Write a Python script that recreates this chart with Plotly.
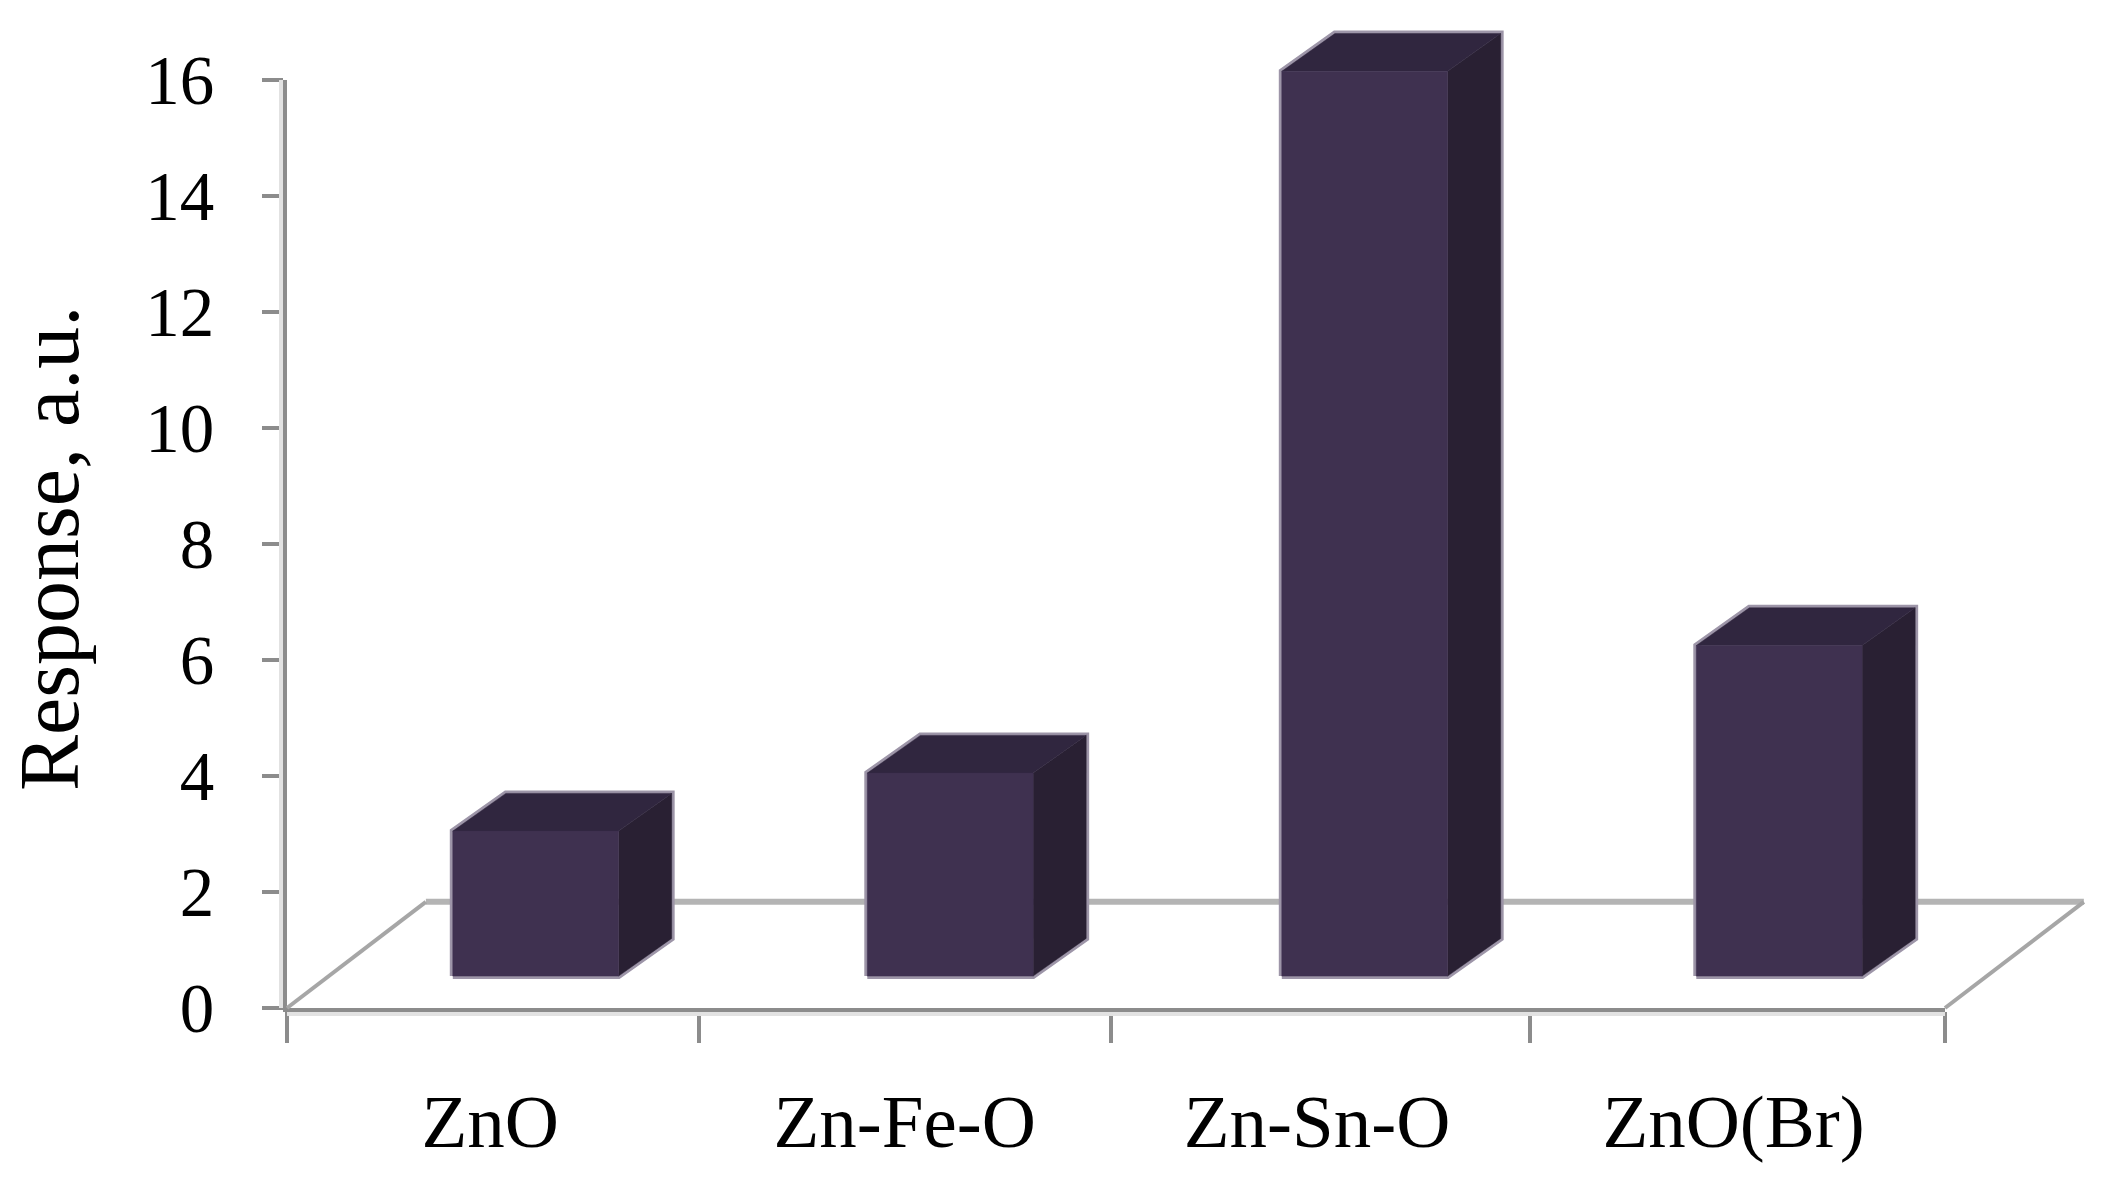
import plotly.graph_objects as go

categories = ["ZnO", "Zn-Fe-O", "Zn-Sn-O", "ZnO(Br)"]
response = [2.5, 3.5, 15.6, 5.7]
y_ticks = [0, 2, 4, 6, 8, 10, 12, 14, 16]
x_label_pos = [0.49, 1.49, 2.485, 3.49]
x_tick_pos = [0, 0.994, 1.988, 2.998, 4]
y_title = "Response, a.u."

W, H = 2112, 1192
X0, X4, Y0, Y16 = 287, 1945, 1008, 80
PX = (X4 - X0) / 4
PY = (Y0 - Y16) / 16

FRONT, TOP, SIDE, EDGE = "#3f3150", "#30263f", "#292033", "#9d95a8"
AXIS, FLOOR, SHADOW = "#8c8c8c", "#b4b4b4", "#e2e2e2"
FONT = "Liberation Serif"

# depth of the floor, offset of the bar's front plane, depth of the bar (category / value units)
FLOOR_DX, FLOOR_DY = 0.335, 1.83
PLANE_DX, PLANE_DY = 0.10, 0.55
BAR_DX, BAR_DY = 0.128, 0.65
BAR_W = 0.40

fig = go.Figure()


def line(x, y, color, width):
    fig.add_trace(go.Scatter(x=x, y=y, mode="lines", line=dict(color=color, width=width),
                             xaxis="x2", yaxis="y2", hoverinfo="skip", showlegend=False))


def poly(x, y, color):
    fig.add_trace(go.Scatter(x=x + x[:1], y=y + y[:1], mode="lines", fill="toself", fillcolor=color,
                             line=dict(color=color, width=0.5), xaxis="x2", yaxis="y2",
                             hoverinfo="skip", showlegend=False))


# keeps the visible axes in the figure
fig.add_trace(go.Scatter(x=[0, 4], y=[0, 16], mode="none", xaxis="x", yaxis="y",
                         hoverinfo="skip", showlegend=False))

# axis shadows
sx, sy = 6 / PX, 6 / PY
line([-sx, -sx], [0, 16], SHADOW, 4)
line([0, 4], [-sy, -sy], SHADOW, 4)

# floor
line([FLOOR_DX, 4 + FLOOR_DX], [FLOOR_DY, FLOOR_DY], FLOOR, 6)
line([0, FLOOR_DX], [0, FLOOR_DY], "#a6a6a6", 4)
line([4, 4 + FLOOR_DX], [0, FLOOR_DY], "#a6a6a6", 4)

# bars
for i, h in enumerate(response):
    l = i + 0.5 + PLANE_DX - BAR_W / 2
    r = l + BAR_W
    b = PLANE_DY
    t = b + h
    fig.add_trace(go.Scatter(
        x=[l, l, l + BAR_DX, r + BAR_DX, r + BAR_DX, r, l],
        y=[b, t, t + BAR_DY, t + BAR_DY, b + BAR_DY, b, b],
        mode="lines", line=dict(color=EDGE, width=6), xaxis="x2", yaxis="y2",
        hoverinfo="skip", showlegend=False))
    poly([r, r + BAR_DX, r + BAR_DX, r], [b, b + BAR_DY, t + BAR_DY, t], SIDE)
    poly([l, l + BAR_DX, r + BAR_DX, r], [t, t + BAR_DY, t + BAR_DY, t], TOP)
    poly([l, r, r, l], [b, b, t, t], FRONT)

fig.update_layout(
    width=W, height=H, margin=dict(l=0, r=0, t=0, b=0, autoexpand=False), autosize=False,
    paper_bgcolor="white", plot_bgcolor="rgba(0,0,0,0)", showlegend=False,
    font=dict(family=FONT, color="black"),
    xaxis=dict(
        domain=[X0 / W, X4 / W], range=[0, 4], anchor="y", showgrid=False, zeroline=False,
        automargin=False,
        showline=True, linecolor=AXIS, linewidth=4, tickmode="array",
        tickvals=x_label_pos, ticktext=categories, ticks="",
        ticklabelstandoff=45, tickfont=dict(size=75, family=FONT, color="black"),
        minor=dict(ticks="outside", ticklen=31, tickwidth=4, tickcolor=AXIS,
                   tickmode="array", tickvals=x_tick_pos, showgrid=False),
    ),
    yaxis=dict(
        domain=[(H - Y0) / H, (H - Y16) / H], range=[0, 16], anchor="x", showgrid=False,
        automargin=False,
        zeroline=False, showline=True, linecolor=AXIS, linewidth=4, tickmode="array",
        tickvals=y_ticks, ticktext=[str(v) for v in y_ticks], ticks="outside", ticklen=21,
        tickwidth=4, tickcolor=AXIS, ticklabelstandoff=34,
        tickfont=dict(size=69, family=FONT, color="black"),
    ),
    xaxis2=dict(domain=[0, 1], range=[-X0 / PX, (W - X0) / PX], anchor="y2", visible=False, automargin=False),
    yaxis2=dict(domain=[0, 1], range=[-(H - Y0) / PY, Y0 / PY], anchor="x2", visible=False, automargin=False),
    annotations=[dict(text=y_title, xref="paper", yref="paper", x=49 / W, y=(H - 549) / H,
                      xanchor="center", yanchor="middle", textangle=-90, showarrow=False,
                      font=dict(size=84, family=FONT, color="black"))],
)

fig.write_html("out.html", config=dict(displayModeBar=False),
               post_script="document.body.style.margin='0';")
